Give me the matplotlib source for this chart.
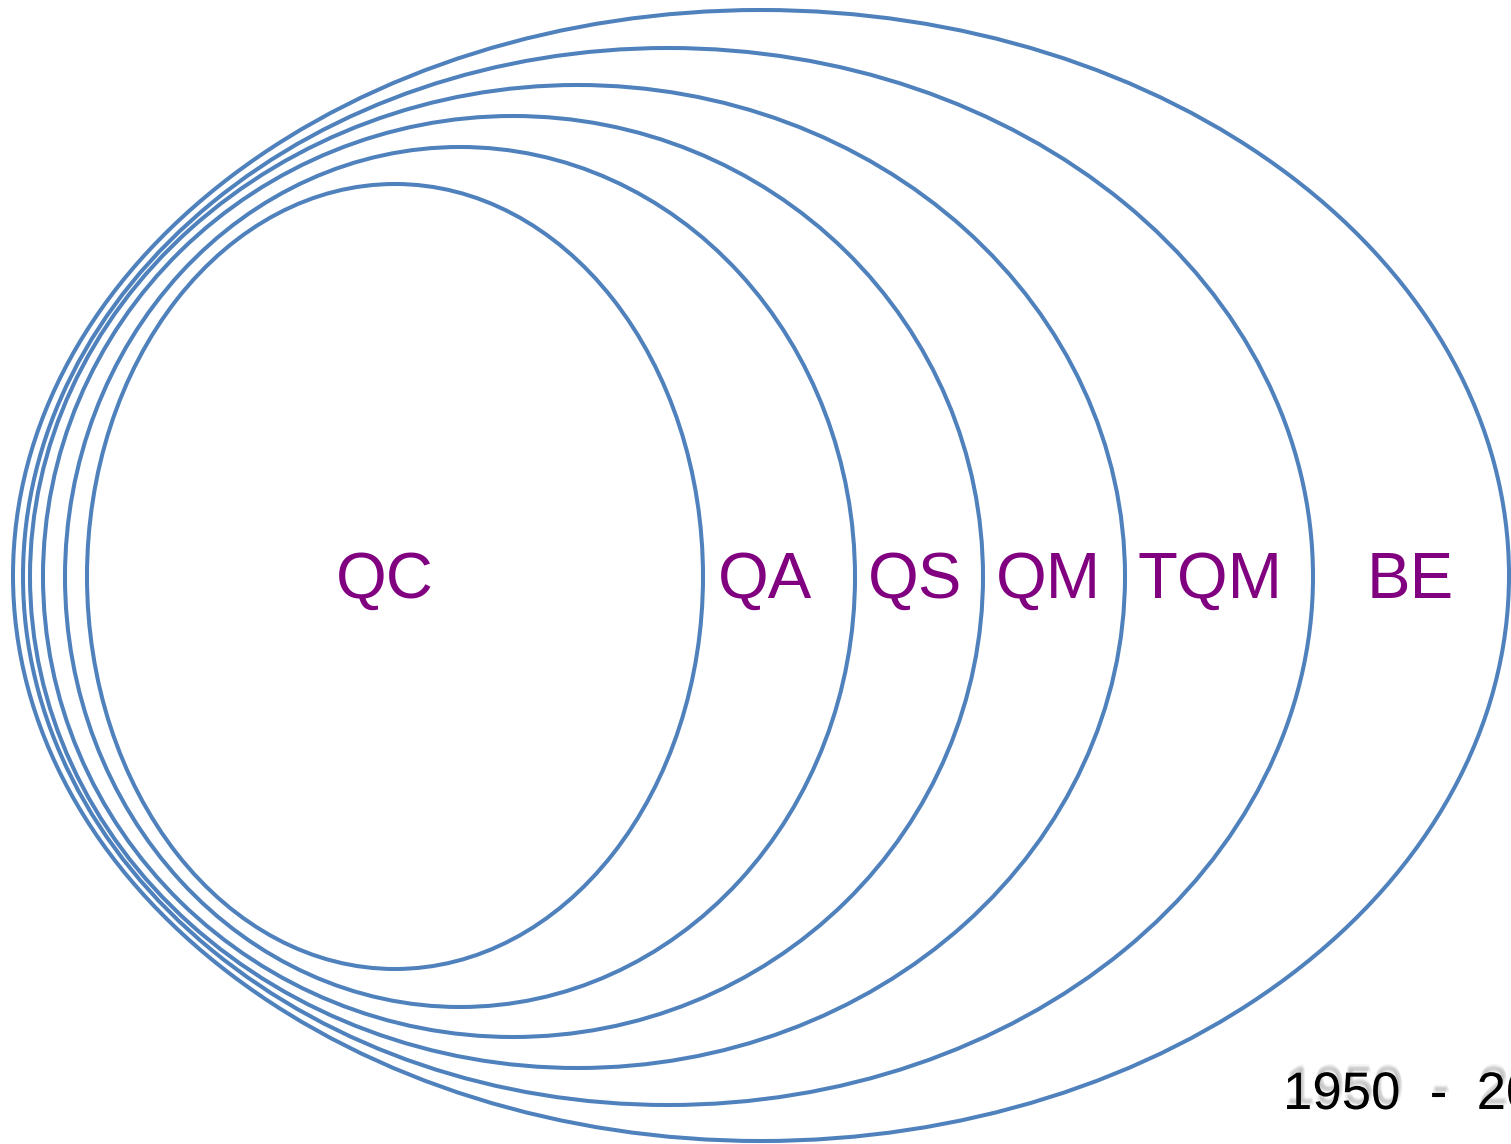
import matplotlib
matplotlib.use('Agg')
import matplotlib.pyplot as plt
import matplotlib.patheffects as pe
from matplotlib.patches import Ellipse

plt.rcParams['font.family'] = ['Liberation Sans', 'DejaVu Sans']

# 质量管理发展阶段 (由内到外)
stages = ['QC', 'QA', 'QS', 'QM', 'TQM', 'BE']
# 各椭圆的左右、上下边界 (像素)
left = [87, 65, 43, 30, 23, 13]
right = [703, 855, 983, 1125, 1313, 1509]
top = [184, 147, 116, 85, 48, 10]
bottom = [969, 1007, 1037, 1068, 1105, 1141]
# 标签中心 x
label_x = [385, 765, 915, 1048, 1210, 1410]

period = '1950  -  2000'

W, H = 1511, 1144
fig = plt.figure(figsize=(W / 100, H / 100), dpi=100)
ax = fig.add_axes([0, 0, 1, 1])
ax.set_xlim(0, W)
ax.set_ylim(H, 0)
ax.axis('off')

for l, r, t, b in zip(left, right, top, bottom):
    e = Ellipse(((l + r) / 2, (t + b) / 2), r - l, b - t,
                fill=False, edgecolor='#4F81BD', lw=2.9)
    ax.add_patch(e)

for name, x in zip(stages, label_x):
    ax.text(x, 598, name, ha='center', va='baseline', fontsize=47,
            color='#800080')

# 年份文字, 用几层偏移的灰色阴影模拟模糊效果
shadow = [pe.SimplePatchShadow(offset=(dx, dy), shadow_rgbFace='#808080', alpha=a)
          for dx, dy, a in [(1.5, 5, 0.12), (2.5, 4, 0.12), (0.5, 4, 0.10),
                            (2, 6, 0.08), (3, 3, 0.08), (1, 2.5, 0.08)]]
ax.text(1283, 1109, period, ha='left', va='baseline', fontsize=38,
        color='black', path_effects=shadow + [pe.Normal()])

fig.savefig('out.png', dpi=100)
